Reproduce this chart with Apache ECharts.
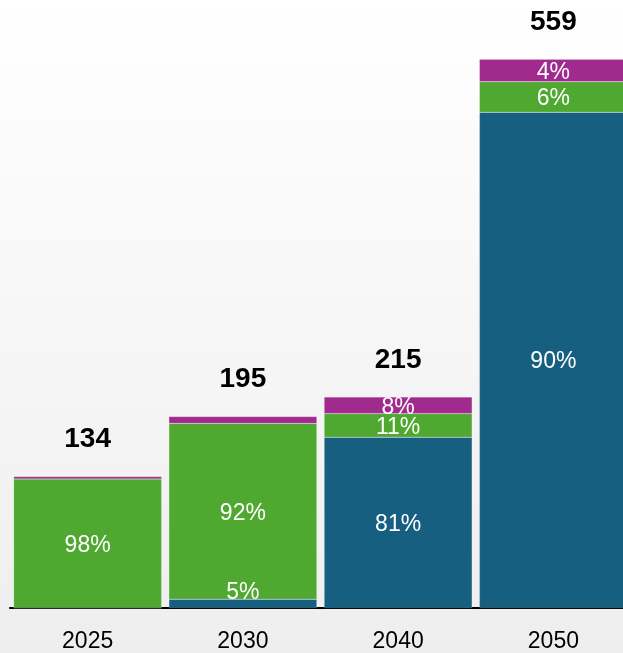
<!DOCTYPE html>
<html><head><meta charset="utf-8">
<script src="https://cdn.jsdelivr.net/npm/echarts@6/dist/echarts.min.js"></script>
<style>html,body{margin:0;padding:0;overflow:hidden;width:623px;height:653px;}#c{width:631px;height:653px;}</style>
</head><body><div id="c"></div>
<script>
const categories = ['2025', '2030', '2040', '2050'];
const blueValues = [0, 9, 174, 505];
const greenValues = [131.5, 179, 24, 31];
const purpleValues = [2.5, 7, 17, 23];
const totals = [134, 195, 215, 559];
// which segment labels are shown: [2025, 2030, 2040, 2050]
const blueShow = [false, true, true, true];
const greenShow = [true, true, true, true];
const purpleShow = [false, false, true, true];

const FONT = 'Liberation Sans, Arial, sans-serif';
function pct(v, i) { return Math.round(v / totals[i] * 100) + '%'; }
function segData(vals, show, special) {
  return vals.map((v, i) => {
    const d = { value: v, label: { show: show[i] } };
    if (special && special[i]) Object.assign(d.label, special[i]);
    return d;
  });
}
const segLabel = {
  position: 'inside', color: '#ffffff', fontSize: 23, fontFamily: FONT,
  offset: [0, 2],
  formatter: p => pct(p.value, p.dataIndex)
};
const border = { borderColor: 'rgba(255,255,255,0.3)', borderWidth: 0.5 };

const chart = echarts.init(document.getElementById('c'), null, { renderer: 'canvas' });
chart.setOption({
  animation: false,
  backgroundColor: {
    type: 'linear', x: 0, y: 0, x2: 0, y2: 1,
    colorStops: [{ offset: 0, color: '#ffffff' }, { offset: 1, color: '#eeeeee' }]
  },
  grid: { left: 10, right: 0, top: 19, bottom: 45 },
  xAxis: {
    type: 'category', data: categories,
    axisLine: { lineStyle: { color: '#000', width: 2 } },
    axisTick: { show: false },
    axisLabel: { color: '#000', fontSize: 23, fontFamily: FONT, margin: 22 }
  },
  yAxis: { type: 'value', min: 0, max: 600, show: false, splitLine: { show: false } },
  series: [
    {
      name: 'blue', type: 'bar', stack: 's', barWidth: 148,
      itemStyle: Object.assign({ color: '#175f80' }, border),
      label: segLabel,
      data: segData(blueValues, blueShow, [null, { position: 'top', distance: -2, offset: [0, 3] }, null, null])
    },
    {
      name: 'green', type: 'bar', stack: 's', barWidth: 148,
      itemStyle: Object.assign({ color: '#4fa830' }, border),
      label: segLabel,
      data: segData(greenValues, greenShow)
    },
    {
      name: 'purple', type: 'bar', stack: 's', barWidth: 148,
      itemStyle: Object.assign({ color: '#a12a8f' }, border),
      label: segLabel,
      data: segData(purpleValues, purpleShow)
    },
    {
      name: 'total', type: 'bar', stack: 's', barWidth: 148,
      itemStyle: { color: 'transparent' },
      label: {
        show: true, position: 'top', distance: 23, color: '#000',
        fontSize: 28, fontWeight: 'bold', fontFamily: FONT,
        formatter: p => String(totals[p.dataIndex])
      },
      data: totals.map(() => 0)
    }
  ]
});
</script></body></html>
